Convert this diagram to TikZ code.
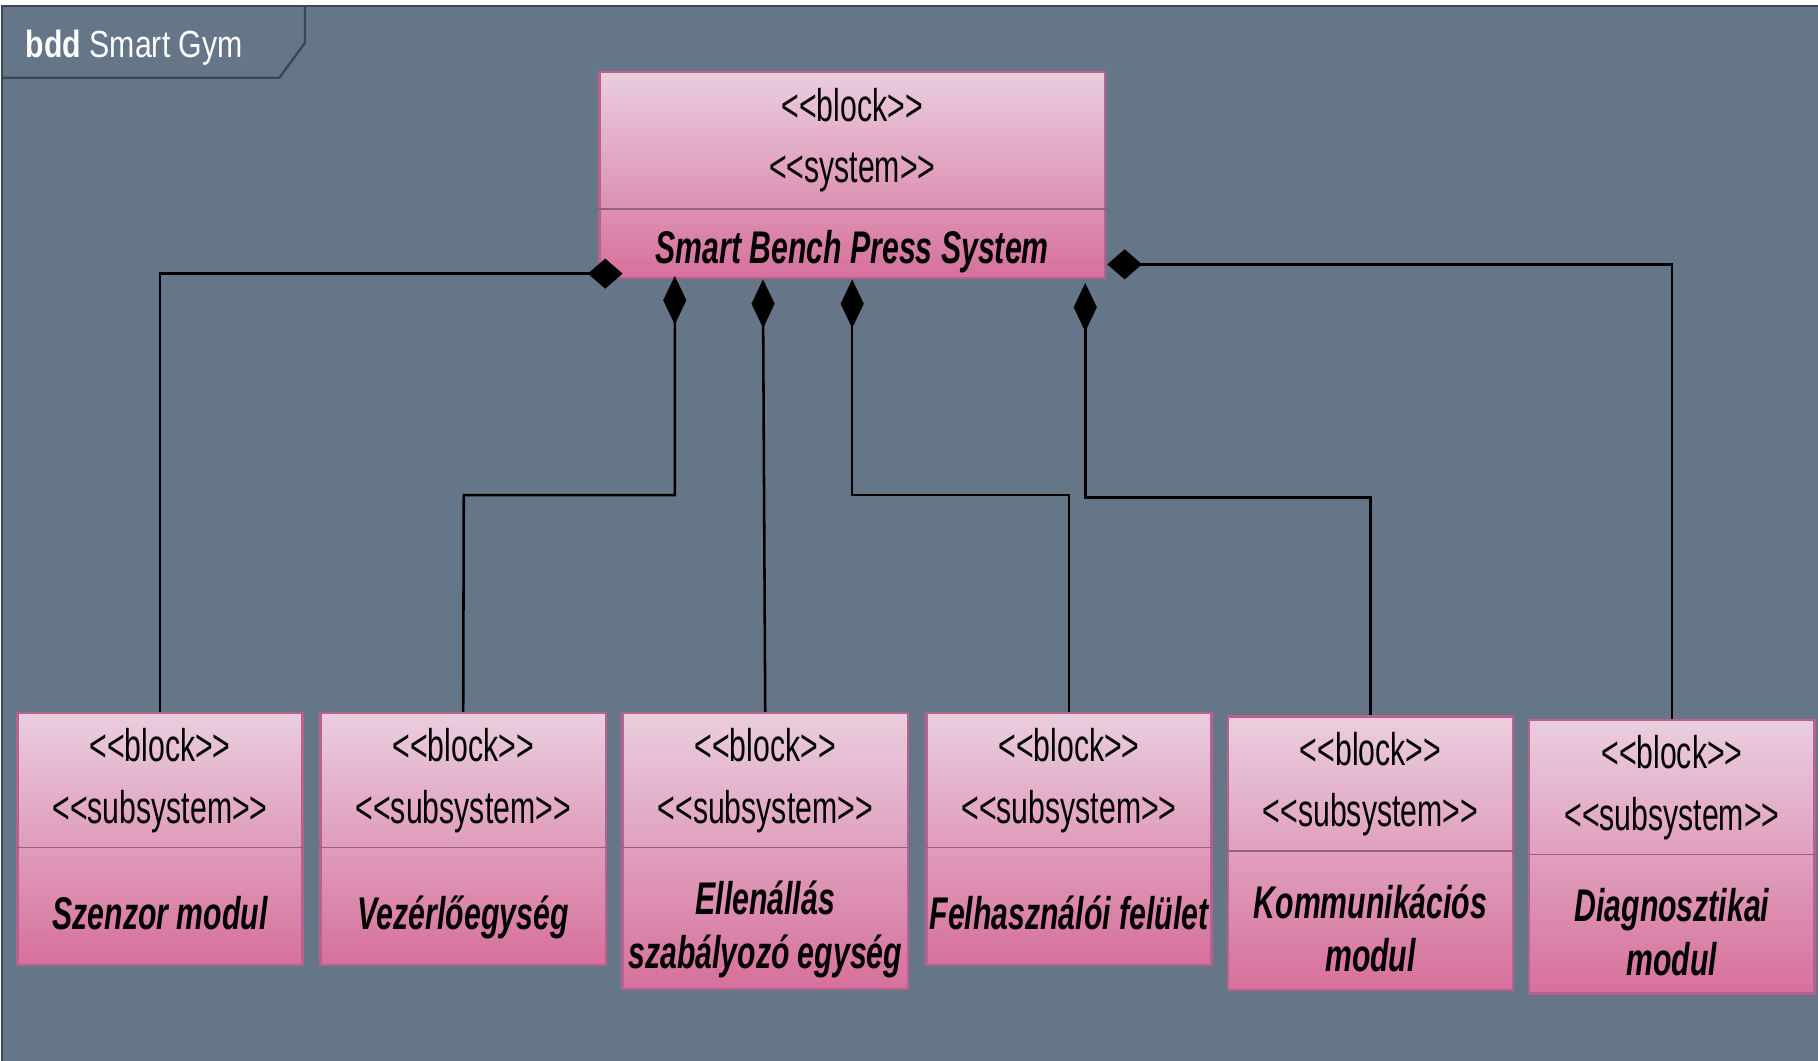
\documentclass[tikz,border=0pt]{standalone}
\usepackage{fontspec}
\setmainfont{Liberation Sans}[FakeStretch=0.66, Ligatures=TeXOff]
\newfontfamily\titlefont{Liberation Sans}[FakeStretch=0.8, Ligatures=TeXOff]
\usetikzlibrary{arrows.meta}

\definecolor{canvas}{RGB}{102,118,137}
\definecolor{framedk}{RGB}{58,70,86}
\definecolor{pinktop}{RGB}{234,206,222}
\definecolor{pinkbot}{RGB}{214,112,156}
\definecolor{pinkedge}{RGB}{184,96,142}
\definecolor{pinkrule}{RGB}{150,96,122}

\begin{document}
\begin{tikzpicture}[x=0.5pt,y=-0.5pt,
  blockbox/.style={draw=pinkedge, line width=1pt, top color=pinktop, bottom color=pinkbot, inner sep=0pt, minimum width=123pt},
  rulebar/.style={draw=pinkrule, line width=0.8pt},
  stereo/.style={anchor=base, inner sep=0pt, font=\fontsize{19.75}{23}\selectfont},
  partname/.style={anchor=base, inner sep=0pt, font=\fontsize{19.75}{23}\selectfont\bfseries\itshape},
  link/.style={draw=black, line width=1.1pt},
  compv/.style={link, {Diamond[length=21pt,width=10pt]}-},
  comph/.style={link, {Diamond[length=15pt,width=13pt]}-},
]
\useasboundingbox (0,0) rectangle (1568,915);

% diagram frame with its name tab
\fill[white] (0,0) rectangle (1568,915);
\fill[canvas] (2,5) rectangle (1568,915);
\draw[framedk, line width=1pt] (2,915) -- (2,5) -- (1568,5);
\draw[framedk, line width=1pt] (2,67) -- (241,67) -- (263,37) -- (263,5);
\node[anchor=base west, inner sep=0pt, text=white, font=\titlefont\fontsize{16.3}{19}\selectfont] (title) at (22,50) {\textbf{bdd} Smart Gym};

% system block
\node[blockbox, minimum width=218pt, minimum height=89pt] (sys) at (735,151) {};
\draw[rulebar] (sys.west |- 0,180) -- (sys.east |- 0,180);
\node[stereo] (sysk) at (735,105) {<<block>>};
\node[stereo] (syss) at (735,157) {<<system>>};
\node[partname] (sysn) at (735,227) {Smart Bench Press System};

% subsystem blocks
\node[blockbox, minimum height=108.5pt] (b1) at (138,723.5) {};
\node[blockbox, minimum height=108.5pt] (b2) at (399.5,723.5) {};
\node[blockbox, minimum height=119pt] (b3) at (660,734) {};
\node[blockbox, minimum height=108.5pt] (b4) at (922,723.5) {};
\node[blockbox, minimum height=118pt] (b5) at (1182,736) {};
\node[blockbox, minimum height=118pt] (b6) at (1442,739) {};

\draw[rulebar] (b1.west |- 0,731) -- (b1.east |- 0,731);
\draw[rulebar] (b2.west |- 0,731) -- (b2.east |- 0,731);
\draw[rulebar] (b3.west |- 0,731) -- (b3.east |- 0,731);
\draw[rulebar] (b4.west |- 0,731) -- (b4.east |- 0,731);
\draw[rulebar] (b5.west |- 0,734) -- (b5.east |- 0,734);
\draw[rulebar] (b6.west |- 0,737) -- (b6.east |- 0,737);

\node[stereo] (b1k) at (138,657) {<<block>>};
\node[stereo] (b1s) at (138,710) {<<subsystem>>};
\node[partname] (b1n) at (138,802) {Szenzor modul};

\node[stereo] (b2k) at (399.5,657) {<<block>>};
\node[stereo] (b2s) at (399.5,710) {<<subsystem>>};
\node[partname] (b2n) at (399.5,802) {Vezérlőegység};

\node[stereo] (b3k) at (660,657) {<<block>>};
\node[stereo] (b3s) at (660,710) {<<subsystem>>};
\node[partname] (b3n) at (660,789) {Ellenállás};
\node[partname] (b3m) at (660,835) {szabályozó egység};

\node[stereo] (b4k) at (922,657) {<<block>>};
\node[stereo] (b4s) at (922,710) {<<subsystem>>};
\node[partname] (b4n) at (922,802) {Felhasználói felület};

\node[stereo] (b5k) at (1182,660) {<<block>>};
\node[stereo] (b5s) at (1182,713) {<<subsystem>>};
\node[partname] (b5n) at (1182,792) {Kommunikációs};
\node[partname] (b5m) at (1182,838) {modul};

\node[stereo] (b6k) at (1442,663) {<<block>>};
\node[stereo] (b6s) at (1442,716) {<<subsystem>>};
\node[partname] (b6n) at (1442,795) {Diagnosztikai};
\node[partname] (b6m) at (1442,841) {modul};

% composition connectors
\coordinate (a1) at (537,236);
\coordinate (a2) at (582,238);
\coordinate (a3) at (658,241);
\coordinate (a4) at (735,241);
\coordinate (a5) at (936,244);
\coordinate (a6) at (955,228);
\coordinate (k2) at (400,427);
\coordinate (k4) at (922,427);
\coordinate (k5) at (1182,429);

\draw[comph] (a1) -| (b1.north);
\draw[compv] (a2) |- (k2) -- (b2.north);
\draw[compv] (a3) -- (b3.north);
\draw[compv] (a4) |- (k4) -- (b4.north);
\draw[compv] (a5) |- (k5) -- (b5.north);
\draw[comph] (a6) -| (b6.north);
\end{tikzpicture}
\end{document}
